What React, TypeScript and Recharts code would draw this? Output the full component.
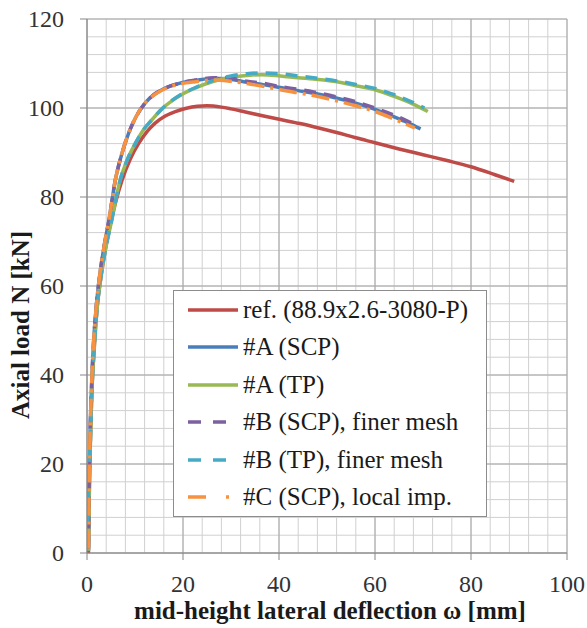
import React from 'react';
import {
  LineChart,
  Line,
  XAxis,
  YAxis,
  CartesianGrid,
  Legend
} from 'recharts';

// [deflection mm, axial load kN]
const refPts = [
  [0.3, 0], [0.45, 12], [0.7, 25], [1.0, 36], [1.5, 46], [2.1, 55], [2.9, 62], [3.8, 68],
  [4.8, 73.5], [6.0, 79], [7.3, 83.8], [9.0, 88.5], [10.8, 92.1], [12.5, 94.7], [14.2, 96.6],
  [16.3, 98.2], [18.4, 99.2], [20.5, 99.9], [23, 100.4], [25, 100.5], [28, 100.2], [30, 99.8],
  [33, 99.1], [36.8, 98.2], [40.3, 97.4], [44.4, 96.5], [47.2, 95.8], [52, 94.5], [56, 93.3],
  [60, 92.2], [65, 90.8], [70, 89.5], [75, 88.2], [80, 86.8], [85, 85.0], [89, 83.5]
];

const aScpPts = [
  [0.3, 0.5], [0.4, 12], [0.6, 25], [0.9, 36], [1.3, 46], [1.9, 55], [2.6, 62], [3.5, 68.5],
  [4.6, 75], [5.9, 83.8], [7.2, 89.5], [8.7, 94.4], [10.3, 98.2], [12.1, 101.1], [13.8, 102.9],
  [15.6, 104.1], [17.3, 104.9], [19.4, 105.6], [22.6, 106.2], [26.4, 106.7], [29, 106.6],
  [33.3, 105.8], [37, 105.2], [40.3, 104.6], [44, 103.9], [47.2, 103.3], [52.1, 102.2],
  [56, 101.1], [60, 99.7], [64, 98], [67, 96.6], [69.5, 95.3]
];

const aTpPts = [
  [0.3, 0.5], [0.45, 12], [0.7, 25], [1.0, 36], [1.5, 46], [2.1, 55], [2.9, 62], [3.8, 68],
  [5.0, 74], [6.9, 83.8], [8.4, 88.4], [10.1, 92.1], [11.7, 95], [13.5, 97.3], [15.6, 99.8],
  [17.7, 101.6], [19.4, 102.8], [22.6, 104.5], [26.4, 106], [30, 106.9], [33.3, 107.3],
  [36.5, 107.5], [40.3, 107.2], [44, 106.8], [47.2, 106.5], [52.1, 105.9], [56, 105],
  [60, 104.1], [64, 102.6], [68.3, 100.7], [71, 99.2]
];

const bScpPts = [
  [0.3, 1], [0.4, 12], [0.6, 25], [0.9, 36], [1.3, 46], [1.9, 55], [2.6, 62], [3.5, 68.5],
  [4.6, 75], [5.9, 83.8], [7.2, 89.5], [8.7, 94.4], [10.3, 98.2], [12.1, 101.1], [13.8, 102.9],
  [15.6, 104.1], [17.3, 104.9], [19.4, 105.6], [22.6, 106.3], [26.4, 106.8], [29, 106.8],
  [33.3, 106], [37, 105.5], [40.3, 104.8], [44, 104.2], [47.2, 103.6], [52, 102.5],
  [56, 101.4], [60, 100], [64, 98.4], [68, 96.4]
];

const bTpPts = [
  [0.2, 7], [0.35, 15], [0.7, 25], [1.0, 36], [1.5, 46], [2.1, 55], [2.9, 62], [3.8, 68],
  [5.0, 74], [6.9, 83.8], [8.4, 88.4], [10.1, 92.1], [11.7, 95], [13.5, 97.3], [15.6, 99.8],
  [17.7, 101.7], [19.4, 102.9], [22.6, 104.6], [26.4, 106.2], [30, 107.2], [33.3, 107.7],
  [36.5, 107.9], [40.3, 107.7], [44, 107.2], [47.2, 106.8], [52, 106.1], [56, 105.3],
  [60, 104.4], [64, 103], [68, 101.2], [70.3, 100]
];

const cScpPts = [
  [0.3, 1], [0.4, 12], [0.6, 25], [0.9, 36], [1.3, 46], [1.9, 55], [2.6, 62], [3.5, 68.5],
  [4.6, 75], [5.9, 83.8], [7.2, 89.5], [8.7, 94.4], [10.3, 98.2], [12.1, 101.1], [13.8, 102.8],
  [15.6, 104], [17.3, 104.8], [19.4, 105.4], [22.6, 105.9], [26.4, 106.3], [29.9, 106],
  [33.3, 105.5], [37, 104.8], [40.3, 104.1], [44, 103.4], [47.2, 102.8], [52, 101.6],
  [56, 100.5], [60, 99.2], [64, 97.5], [68.3, 95.5]
];

const xMajor = [0, 20, 40, 60, 80, 100];
const yMajor = [0, 20, 40, 60, 80, 100, 120];
const xMinor = [0, 4, 8, 12, 16, 20, 24, 28, 32, 36, 40, 44, 48, 52, 56, 60, 64, 68, 72, 76, 80, 84, 88, 92, 96, 100];
const yMinor = [0, 4, 8, 12, 16, 20, 24, 28, 32, 36, 40, 44, 48, 52, 56, 60, 64, 68, 72, 76, 80, 84, 88, 92, 96, 100, 104, 108, 112, 116, 120];

const series = [
  { name: 'ref. (88.9x2.6-3080-P)', pts: refPts, color: '#BE4B48', dash: undefined, legendDash: undefined },
  { name: '#A (SCP)', pts: aScpPts, color: '#4A7EBB', dash: undefined, legendDash: undefined },
  { name: '#A (TP)', pts: aTpPts, color: '#98B954', dash: undefined, legendDash: undefined },
  { name: '#B (SCP), finer mesh', pts: bScpPts, color: '#7D60A0', dash: '12 8', legendDash: '13 12' },
  { name: '#B (TP), finer mesh', pts: bTpPts, color: '#46AAC5', dash: '12 8', legendDash: '13 12' },
  { name: '#C (SCP), local imp.', pts: cScpPts, color: '#F69240', dash: '18 6 3 6', legendDash: '18 20 3 20' }
];

const FONT = "'Liberation Serif', 'DejaVu Serif', serif";

const XTick = ({ x, y, payload }: any) => (
  <g>
    <line x1={x} x2={x} y1={y} y2={y + 7} stroke="#868686" />
    <text x={x} y={y + 39} textAnchor="middle" style={{ fontFamily: FONT }} fontSize={24} fill="#333">
      {payload.value}
    </text>
  </g>
);

const YTick = ({ x, y, payload }: any) => (
  <g>
    <line x1={x - 7} x2={x} y1={y} y2={y} stroke="#868686" />
    <text x={x - 23} y={y + 8} textAnchor="end" style={{ fontFamily: FONT }} fontSize={24} fill="#333">
      {payload.value}
    </text>
  </g>
);

const LegendBox = () => (
  <div
    style={{
      width: 312,
      height: 225,
      border: '1px solid #8c8c8c',
      background: '#fff',
      fontFamily: FONT,
      fontSize: 25,
      color: '#1a1a1a'
    }}
  >
    {series.map((s) => (
      <div key={s.name} style={{ height: 37.5, display: 'flex', alignItems: 'center' }}>
        <svg width={69} height={10} style={{ flex: 'none' }}>
          <line
            x1={14}
            x2={64}
            y1={5}
            y2={5}
            stroke={s.color}
            strokeWidth={3.5}
            strokeDasharray={s.legendDash}
          />
        </svg>
        <span style={{ whiteSpace: 'nowrap' }}>{s.name}</span>
      </div>
    ))}
  </div>
);

export default function App() {
  return (
    <div style={{ position: 'absolute', left: 0, top: 0, width: 587, height: 628, background: '#fff', fontFamily: FONT }}>
      <LineChart width={587} height={628} margin={{ top: 19, right: 20, left: 0, bottom: 0 }}>
        <CartesianGrid
          horizontalValues={yMinor}
          verticalValues={xMinor}
          stroke="#d0d0d0"
          strokeWidth={1}
        />
        <CartesianGrid
          horizontalValues={yMajor}
          verticalValues={xMajor}
          stroke="#a6a6a6"
          strokeWidth={1}
        />
        <XAxis
          type="number"
          dataKey="x"
          domain={[0, 100]}
          ticks={xMajor}
          interval={0}
          height={75}
          tickLine={false}
          tickSize={0}
          tickMargin={0}
          axisLine={{ stroke: '#868686' }}
          tick={<XTick />}
          allowDataOverflow
          label={{
            content: () => (
              <text x={330} y={619} textAnchor="middle" style={{ fontFamily: FONT }} fontSize={25} fontWeight="bold" fill="#1a1a1a">
                mid-height lateral deflection ω [mm]
              </text>
            )
          }}
        />
        <YAxis
          type="number"
          dataKey="y"
          domain={[0, 120]}
          ticks={yMajor}
          interval={0}
          width={87}
          tickLine={false}
          tickSize={0}
          tickMargin={0}
          axisLine={{ stroke: '#868686' }}
          tick={<YTick />}
          allowDataOverflow
          label={{
            content: () => (
              <text
                x={0}
                y={0}
                transform="translate(29 325) rotate(-90)"
                textAnchor="middle"
                style={{ fontFamily: FONT }}
                fontSize={25}
                fontWeight="bold"
                fill="#1a1a1a"
              >
                Axial load N [kN]
              </text>
            )
          }}
        />
        {series.map((s) => (
          <Line
            key={s.name}
            data={s.pts.map(([x, y]) => ({ x, y }))}
            dataKey="y"
            name={s.name}
            type="monotone"
            stroke={s.color}
            strokeWidth={3.5}
            strokeDasharray={s.dash}
            dot={false}
            activeDot={false}
            isAnimationActive={false}
          />
        ))}
        <Legend
          layout="vertical"
          align="center"
          verticalAlign="middle"
          wrapperStyle={{ left: 173, top: 290, width: 314, height: 227 }}
          content={<LegendBox />}
        />
      </LineChart>
    </div>
  );
}
